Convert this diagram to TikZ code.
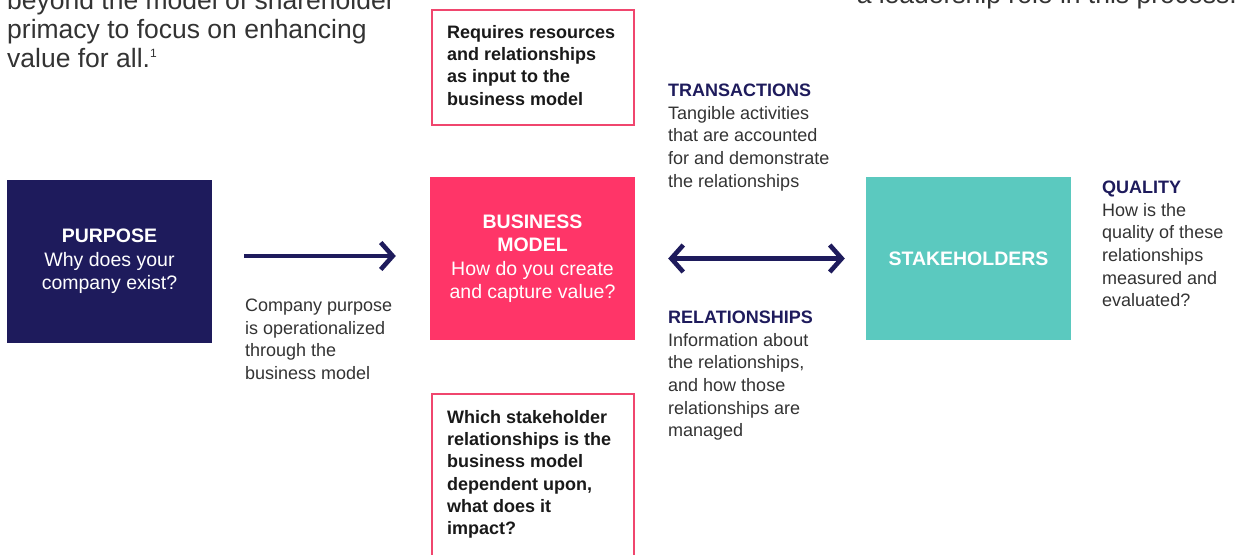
\documentclass[tikz,border=0pt]{standalone}
\usepackage{fontspec}
\setmainfont{Liberation Sans}
\usetikzlibrary{arrows.meta}
\definecolor{navy}{HTML}{1E1B5C}
\definecolor{hotpink}{HTML}{FF3568}
\definecolor{teal}{HTML}{5BC9BF}
\definecolor{txtgray}{HTML}{333333}
\definecolor{boxline}{HTML}{F0466E}
\begin{document}
\begin{tikzpicture}[x=1pt,y=-1pt,
  body/.style={font=\fontsize{18}{22.6}\selectfont, text=txtgray, align=left, inner sep=0, anchor=north west},
  bigbox/.style={minimum width=205, minimum height=163, inner sep=0, align=center, text=white, font=\fontsize{19.5}{23.5}\selectfont},
  outline/.style={draw=boxline, line width=2, inner sep=0, minimum width=202},
  boxtext/.style={font=\fontsize{18}{22.3}\selectfont\bfseries, text=black!90, align=left, inner sep=0, anchor=north west},
  arr/.style={draw=navy, line width=4.6, -{Straight Barb[length=12,width=27]}},
  darr/.style={draw=navy, line width=4.6, {Straight Barb[length=12,width=27]}-{Straight Barb[length=12,width=27]}},
]
\useasboundingbox (0,0) rectangle (1236,554);

% cut-off texts at top
\node[body, font=\fontsize{26.5}{29}\selectfont] (intro) at (7,-10)
  {beyond the model of shareholder\\primacy to focus on enhancing\\value for all.\raisebox{9.5pt}{\fontsize{12}{12}\selectfont 1}};
\node[inner sep=0, anchor=base east, text=txtgray, font=\fontsize{26.5}{29}\selectfont] (lead) at (1237,4)
  {a leadership role in this process.};

% main boxes
\node[bigbox, fill=navy] (purpose) at (109.5,261.5)
  {\textbf{PURPOSE}\\Why does your\\company exist?};
\node[bigbox, fill=hotpink] (business) at (532.5,258.5)
  {\textbf{BUSINESS}\\\textbf{MODEL}\\How do you create\\and capture value?};
\node[bigbox, fill=teal] (stake) at (968.5,258.5)
  {\textbf{STAKEHOLDERS}};

% outlined boxes
\node[outline, minimum height=115] (topbox) at (533,67) {};
\node[boxtext] (toptext) at (447,25)
  {Requires resources\\and relationships\\as input to the\\business model};
\node[outline, minimum height=200, anchor=north] (botbox) at (533,393) {};
\node[boxtext] (bottext) at (447,410)
  {Which stakeholder\\relationships is the\\business model\\dependent upon,\\what does it\\impact?};

% side texts
\node[body] (cpurpose) at (245,299)
  {Company purpose\\is operationalized\\through the\\business model};
\node[body] (trans) at (668,84)
  {\textcolor{navy}{\textbf{TRANSACTIONS}}\\Tangible activities\\that are accounted\\for and demonstrate\\the relationships};
\node[body] (rel) at (668,311)
  {\textcolor{navy}{\textbf{RELATIONSHIPS}}\\Information about\\the relationships,\\and how those\\relationships are\\managed};
\node[body] (qual) at (1102,181)
  {\textcolor{navy}{\textbf{QUALITY}}\\How is the\\quality of these\\relationships\\measured and\\evaluated?};

% arrows
\coordinate (a1) at (0,256);
\coordinate (a2) at (0,258.5);
\draw[arr, shorten <=32, shorten >=34] (purpose.east |- a1) -- (business.west |- a1);
\draw[darr, shorten <=33, shorten >=21] (business.east |- a2) -- (stake.west |- a2);
\end{tikzpicture}
\end{document}
